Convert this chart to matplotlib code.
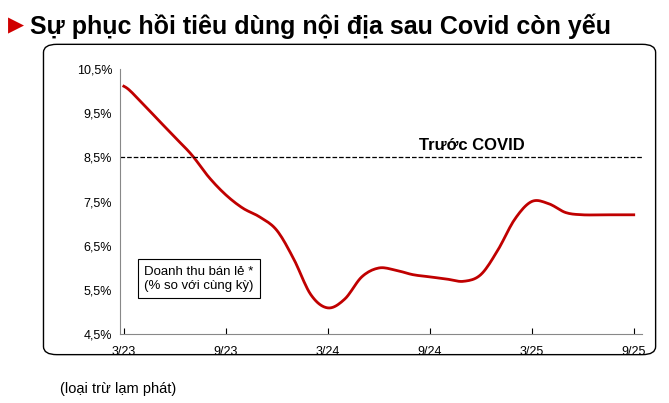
import matplotlib
matplotlib.use("Agg")
import matplotlib.pyplot as plt
import numpy as np
from matplotlib.patches import FancyBboxPatch

values = [10.1, 9.75, 9.35, 8.95, 8.55, 8.05, 7.65, 7.35, 7.15, 6.85, 6.2, 5.4, 5.1,
          5.3, 5.8, 6.0, 5.95, 5.85, 5.8, 5.75, 5.7, 5.85, 6.4, 7.1, 7.5, 7.45, 7.25,
          7.2, 7.2, 7.2, 7.2]
tick_pos = [0, 6, 12, 18, 24, 30]
tick_labels = ["3/23", "9/23", "3/24", "9/24", "3/25", "9/25"]
y_ticks = [4.5, 5.5, 6.5, 7.5, 8.5, 9.5, 10.5]
y_labels = ["4,5%", "5,5%", "6,5%", "7,5%", "8,5%", "9,5%", "10,5%"]
pre_covid = 8.5

def catmull_rom(y, n=10):
    y = np.asarray(y, float)
    p = np.concatenate([[y[0]], y, [y[-1]]])
    xs, ys = [], []
    t = np.linspace(0, 1, n, endpoint=False)
    for i in range(len(y) - 1):
        p0, p1, p2, p3 = p[i], p[i+1], p[i+2], p[i+3]
        seg = 0.5 * (2*p1 + (-p0+p2)*t + (2*p0-5*p1+4*p2-p3)*t**2 + (-p0+3*p1-3*p2+p3)*t**3)
        xs.extend(i + t); ys.extend(seg)
    xs.append(len(y) - 1); ys.append(y[-1])
    return np.array(xs), np.array(ys)

plt.rcParams['font.family'] = ['Liberation Sans', 'DejaVu Sans']
fig = plt.figure(figsize=(6.69, 4.03), dpi=100)
fig.patches.append(FancyBboxPatch((0.065, 0.12), 0.915, 0.77, boxstyle="round,pad=0,rounding_size=0.02",
                                  transform=fig.transFigure, fill=False, edgecolor="black", lw=1))
ax = fig.add_axes([0.18, 0.17, 0.78, 0.66])
sx, sy = catmull_rom(values)
ax.plot(sx, sy, color="#c00000", lw=2)
ax.axhline(pre_covid, color="black", ls="--", lw=0.9)
ax.text(20.5, 8.6, "Trước COVID", fontsize=12, fontweight="bold", ha="center", va="bottom")
ax.set_ylim(4.5, 10.5)
ax.set_xlim(-0.2, 30.5)
ax.set_yticks(y_ticks, y_labels, fontsize=9)
ax.set_xticks(tick_pos, tick_labels, fontsize=9)
ax.tick_params(axis='x', length=4, direction='in', pad=8)
ax.tick_params(axis='y', length=0, pad=6)
for s in ["top", "right"]:
    ax.spines[s].set_visible(False)
ax.spines["left"].set_color("#888")
ax.spines["bottom"].set_color("#888")
ax.text(1.2, 6.05, "Doanh thu bán lẻ *\n(% so với cùng kỳ)", fontsize=9.5, va="top",
        bbox=dict(boxstyle="square,pad=0.5", fc="white", ec="black", lw=0.8))
fig.text(0.012, 0.935, "\u25B6", color="#d00000", fontsize=15, va="center")
fig.text(0.045, 0.935, "Sự phục hồi tiêu dùng nội địa sau Covid còn yếu", fontsize=18,
         fontweight="bold", va="center")
fig.text(0.09, 0.035, "(loại trừ lạm phát)", fontsize=10.5, va="center")
fig.savefig("out.png")
